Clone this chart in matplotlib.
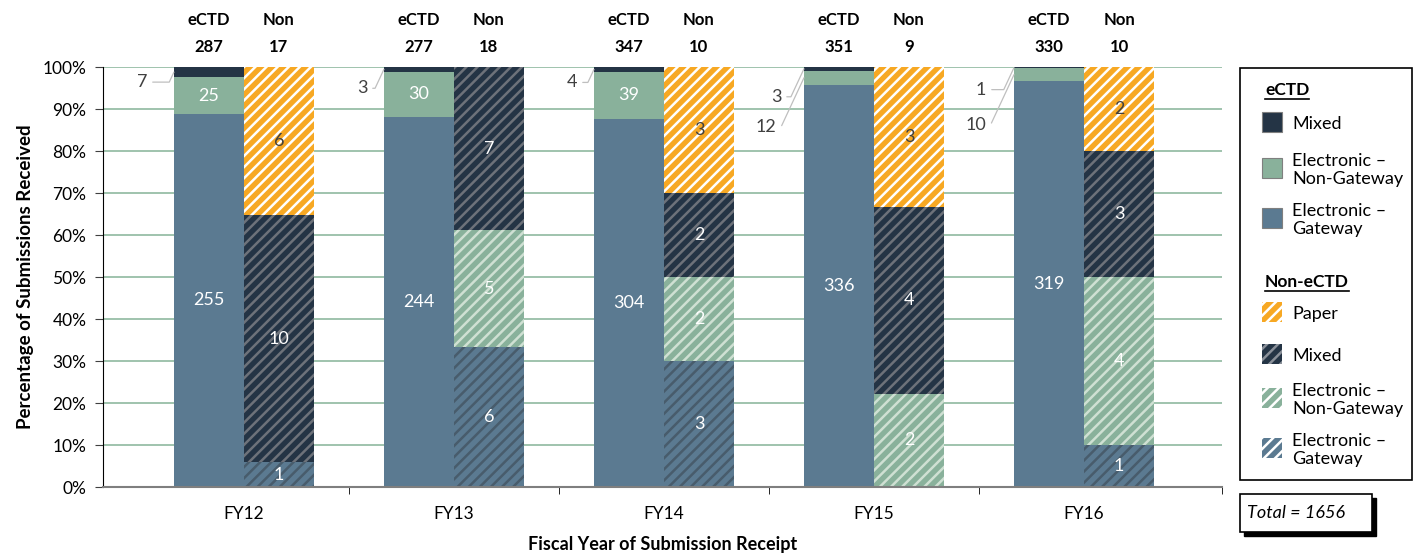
import matplotlib
matplotlib.use('Agg')
import matplotlib.pyplot as plt
from matplotlib.patches import Rectangle
from matplotlib.lines import Line2D
import numpy as np

plt.rcParams['font.family'] = ['Lato', 'DejaVu Sans']
plt.rcParams['hatch.linewidth'] = 1.8

# data
years = ['FY12', 'FY13', 'FY14', 'FY15', 'FY16']
ectd_gateway = [255, 244, 304, 336, 319]
ectd_nongateway = [25, 30, 39, 12, 10]
ectd_mixed = [7, 3, 4, 3, 1]
non_gateway = [1, 6, 3, 0, 1]
non_nongateway = [0, 5, 2, 2, 4]
non_mixed = [10, 7, 2, 4, 3]
non_paper = [6, 0, 3, 3, 2]
total = 1656

# label offsets (pixels) for small eCTD segments drawn outside the bar
outside = {
    (0, 'mixed'): (-32, -10),
    (1, 'mixed'): (-22, -19),
    (2, 'mixed'): (-22, -13),
    (3, 'mixed'): (-28, -28),
    (3, 'ng'): (-38, -49),
    (4, 'mixed'): (-33, -22),
    (4, 'ng'): (-38, -50),
}

c_gw = '#5b7a91'
c_ng = '#89b19b'
c_mx = '#243445'
c_pp = '#f7a823'
grid_c = '#8fb9a0'
HATCH = '///'

W, H = 1419, 554
fig = plt.figure(figsize=(W / 100, H / 100), dpi=100)
ax = fig.add_axes([103 / W, 1 - 487 / H, (1222 - 103) / W, (487 - 67) / H])

x = np.arange(len(years))
w = 1 / 3

ectd_tot = np.array(ectd_gateway) + np.array(ectd_nongateway) + np.array(ectd_mixed)
non_tot = np.array(non_gateway) + np.array(non_nongateway) + np.array(non_mixed) + np.array(non_paper)

ectd_series = [('gw', ectd_gateway, c_gw, None, None),
               ('ng', ectd_nongateway, c_ng, None, None),
               ('mixed', ectd_mixed, c_mx, None, None)]
non_series = [('gw', non_gateway, c_gw, '#485c6c', 'white'),
              ('ng', non_nongateway, c_ng, '#cfe0d3', 'white'),
              ('mixed', non_mixed, c_mx, '#6d727a', 'white'),
              ('paper', non_paper, c_pp, 'white', '#404040')]

ax.set_axisbelow(True)
ax.yaxis.grid(True, color=grid_c, linewidth=1.2)

# eCTD bars
bottom = np.zeros(len(years))
for key, vals, col, hc, tc in ectd_series:
    pct = np.array(vals) / ectd_tot * 100
    ax.bar(x - w / 2, pct, w, bottom=bottom, color=col, linewidth=0)
    for i in range(len(years)):
        if vals[i] == 0:
            continue
        mid = bottom[i] + pct[i] / 2
        if (i, key) in outside:
            ax.annotate(str(vals[i]), xy=(x[i] - w, mid), xytext=outside[(i, key)],
                        textcoords='offset pixels', ha='center', va='center',
                        fontsize=13, color='#404040',
                        arrowprops=dict(arrowstyle='-', color='#bfbfbf', lw=0.9,
                                        shrinkA=2, shrinkB=0,
                                        connectionstyle='angle,angleA=0,angleB=65,rad=0'))
        else:
            ax.text(x[i] - w / 2, mid, str(vals[i]), ha='center', va='center',
                    fontsize=13, color='white')
    bottom += pct

# non-eCTD bars
bottom = np.zeros(len(years))
for key, vals, col, hc, tc in non_series:
    pct = np.array(vals) / non_tot * 100
    ax.bar(x + w / 2, pct, w, bottom=bottom, color=col, edgecolor=hc,
           hatch=HATCH, linewidth=0)
    for i in range(len(years)):
        if vals[i] == 0:
            continue
        ax.text(x[i] + w / 2, bottom[i] + pct[i] / 2, str(vals[i]), ha='center',
                va='center', fontsize=13, color=tc)
    bottom += pct

# headers above bars
for i in range(len(years)):
    for dx, name, n in [(-w / 2, 'eCTD', ectd_tot[i]), (w / 2, 'Non', non_tot[i])]:
        ax.text(x[i] + dx, 1.112, name, transform=ax.get_xaxis_transform(),
                ha='center', va='center', fontsize=12, fontweight='bold')
        ax.text(x[i] + dx, 1.048, str(n), transform=ax.get_xaxis_transform(),
                ha='center', va='center', fontsize=12, fontweight='bold')

ax.set_xlim(-0.671, 4.657)
ax.set_ylim(0, 100)
ax.set_yticks(np.arange(0, 101, 10))
ax.set_yticklabels([f'{v}%' for v in range(0, 101, 10)], fontsize=12.5)
ax.set_xticks(x)
ax.set_xticklabels(years, fontsize=12.5)
ax.tick_params(axis='x', which='major', length=0, pad=14)
ax.set_xticks([0.5, 1.5, 2.5, 3.5, 4.657], minor=True)
ax.tick_params(axis='x', which='minor', length=5, color='black', direction='out')
ax.tick_params(axis='y', length=6, color='#404040', pad=6)

for s in ['top', 'right']:
    ax.spines[s].set_visible(False)
ax.spines['left'].set_color('black')
ax.spines['bottom'].set_color('#7f7f7f')
ax.spines['bottom'].set_linewidth(1.5)

ax.set_ylabel('Percentage of Submissions Received', fontsize=13.5, fontweight='bold', labelpad=6)
ax.set_xlabel('Fiscal Year of Submission Receipt', fontsize=13, fontweight='bold', labelpad=10)


def px(xp, yp):
    return xp / W, 1 - yp / H


# legend box
x0, y0 = px(1240, 480)
fig.add_artist(Rectangle((x0, y0), 172 / W, 412 / H, transform=fig.transFigure,
                         facecolor='white', edgecolor='black', linewidth=1.2))

headers = [('eCTD', 90), ('Non-eCTD', 282)]
items = [('Mixed', 122, c_mx, None), ('Electronic –\nNon-Gateway', 168, c_ng, None),
         ('Electronic –\nGateway', 218, c_gw, None),
         ('Paper', 312, c_pp, 'white'), ('Mixed', 354, c_mx, '#8a9099'),
         ('Electronic –\nNon-Gateway', 398, c_ng, 'white'),
         ('Electronic –\nGateway', 448, c_gw, 'white')]

head_texts = []
for label, yp in headers:
    t = fig.text(*px(1265, yp), label, ha='left', va='center', fontsize=12.5, fontweight='bold')
    head_texts.append(t)

for label, yp, col, hc in items:
    sx, sy = px(1262, yp + 10)
    fig.add_artist(Rectangle((sx, sy), 20 / W, 20 / H, transform=fig.transFigure,
                             facecolor=col, edgecolor=hc if hc else '#7f7f7f',
                             hatch=HATCH if hc else None, linewidth=0 if hc else 0.8))
    fig.text(*px(1292, yp + 2), label, ha='left', va='center', fontsize=13,
             linespacing=1.1)

# total box with shadow
bx, by = px(1244, 536)
fig.add_artist(Rectangle((bx, by), 132 / W, 38 / H, transform=fig.transFigure,
                         facecolor='black', edgecolor='black'))
bx, by = px(1240, 532)
fig.add_artist(Rectangle((bx, by), 132 / W, 38 / H, transform=fig.transFigure,
                         facecolor='white', edgecolor='black', linewidth=1.2))
fig.text(*px(1247, 513), f'Total = {total}', ha='left', va='center', fontsize=13,
         style='italic')

# underline legend headers
fig.canvas.draw()
for t in head_texts:
    bb = t.get_window_extent().transformed(fig.transFigure.inverted())
    fig.add_artist(Line2D([bb.x0, bb.x1], [bb.y0 - 1 / H, bb.y0 - 1 / H],
                          transform=fig.transFigure, color='black', linewidth=1.2))

fig.savefig('out.png', dpi=100)
